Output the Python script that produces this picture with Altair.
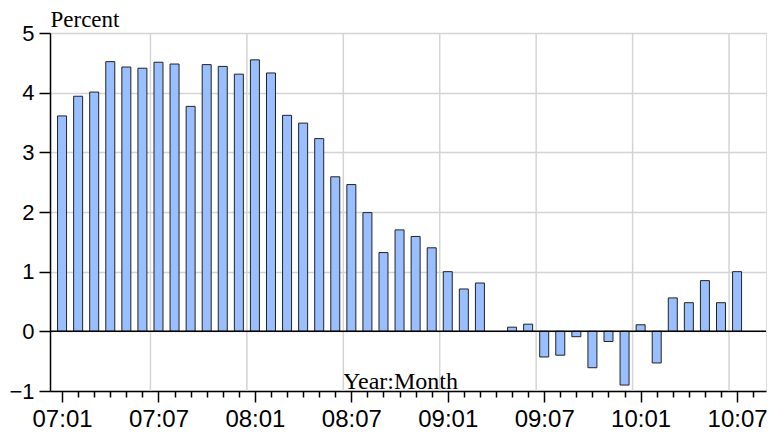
import json
import altair as alt
import pandas as pd

# Month labels (YY:MM) from 2007:01 to 2010:07
month_labels = [f"{y:02d}:{m:02d}" for y in range(7, 11) for m in range(1, 13)][:43]

# Values in percent (09:04 shows no bar)
values = [
    3.61, 3.94, 4.01, 4.52, 4.43, 4.41, 4.51, 4.48, 3.77, 4.47, 4.44, 4.31,   # 2007
    4.55, 4.33, 3.62, 3.49, 3.23, 2.59, 2.46, 1.99, 1.32, 1.70, 1.59, 1.40,   # 2008
    1.00, 0.71, 0.81, None, 0.07, 0.12, -0.43, -0.40, -0.09, -0.61, -0.17, -0.90,  # 2009
    0.11, -0.53, 0.56, 0.48, 0.85, 0.48, 1.00,                               # 2010
]
y_ticks = [-1, 0, 1, 2, 3, 4, 5]

df = pd.DataFrame({"idx": list(range(len(values))), "label": month_labels, "v": values})

W, H = 716, 358
label_expr = "datum.value % 6 === 0 && datum.value < 43 ? " + json.dumps(month_labels) + "[datum.value] : ''"

x_scale = alt.Scale(domain=[-0.75, 43.8], nice=False, zero=False)
y_scale = alt.Scale(domain=[-1, 5], nice=False, zero=False)

x_axis = alt.Axis(
    values=list(range(44)),
    labelExpr=label_expr,
    grid=False,
    tickSize={"condition": {"test": "datum.value % 6 === 0", "value": 11}, "value": 6},
    tickColor="black",
    tickWidth=1.5,
    domainColor="black",
    domainWidth=1.5,
    labelFont="Liberation Sans",
    labelFontSize=24,
    labelColor="black",
    labelPadding=5,
    labelOverlap=False,
    labelFlush=False,
    labelBound=False,
    title="Year:Month",
    titleFont="Liberation Serif",
    titleFontSize=24,
    titleFontWeight="normal",
    titleColor="black",
    titleX=350,
    titleY=-3,
    titleBaseline="alphabetic",
)

y_axis = alt.Axis(
    values=y_ticks,
    format="d",
    grid=True,
    gridColor="#d4d4d4",
    gridWidth=1.5,
    tickSize=11,
    tickColor="black",
    tickWidth=1.5,
    domainColor="black",
    domainWidth=1.5,
    labelFont="Liberation Sans",
    labelFontSize=22,
    labelColor="black",
    labelPadding=5,
    labelFlush=False,
    title="Percent",
    titleAngle=0,
    titleX=0,
    titleY=-7,
    titleAlign="left",
    titleBaseline="alphabetic",
    titleFont="Liberation Serif",
    titleFontSize=23,
    titleFontWeight="normal",
    titleColor="black",
)

base = alt.Chart(df)

bars = base.transform_filter("isValid(datum.v)").transform_calculate(
    lo="datum.idx - 0.28", hi="datum.idx + 0.28"
).mark_bar(fill="#99bfff", stroke="#222222", strokeWidth=1).encode(
    x=alt.X("lo:Q", scale=x_scale, axis=x_axis),
    x2="hi:Q",
    y=alt.Y("v:Q", scale=y_scale, axis=y_axis),
    y2=alt.datum(0),
)

vgrid = base.transform_filter("datum.idx % 6 === 0 && datum.idx > 0").transform_calculate(
    g="datum.idx - 0.5"
).mark_rule(color="#d4d4d4", strokeWidth=1.5).encode(
    x=alt.X("g:Q", scale=x_scale, axis=x_axis)
)

zero = alt.Chart(pd.DataFrame({"z": [0]})).mark_rule(color="black", strokeWidth=1.5).encode(
    y=alt.Y("z:Q", scale=y_scale, axis=y_axis)
)

chart = alt.layer(vgrid, bars, zero).properties(
    width=W,
    height=H,
    autosize=alt.AutoSizeParams(type="none"),
    padding={"left": 50, "top": 33, "right": 3, "bottom": 41},
).configure_view(stroke="black", strokeWidth=1.5).configure(background="white")

chart.save("out.html", embed_options={"renderer": "svg", "actions": False})
